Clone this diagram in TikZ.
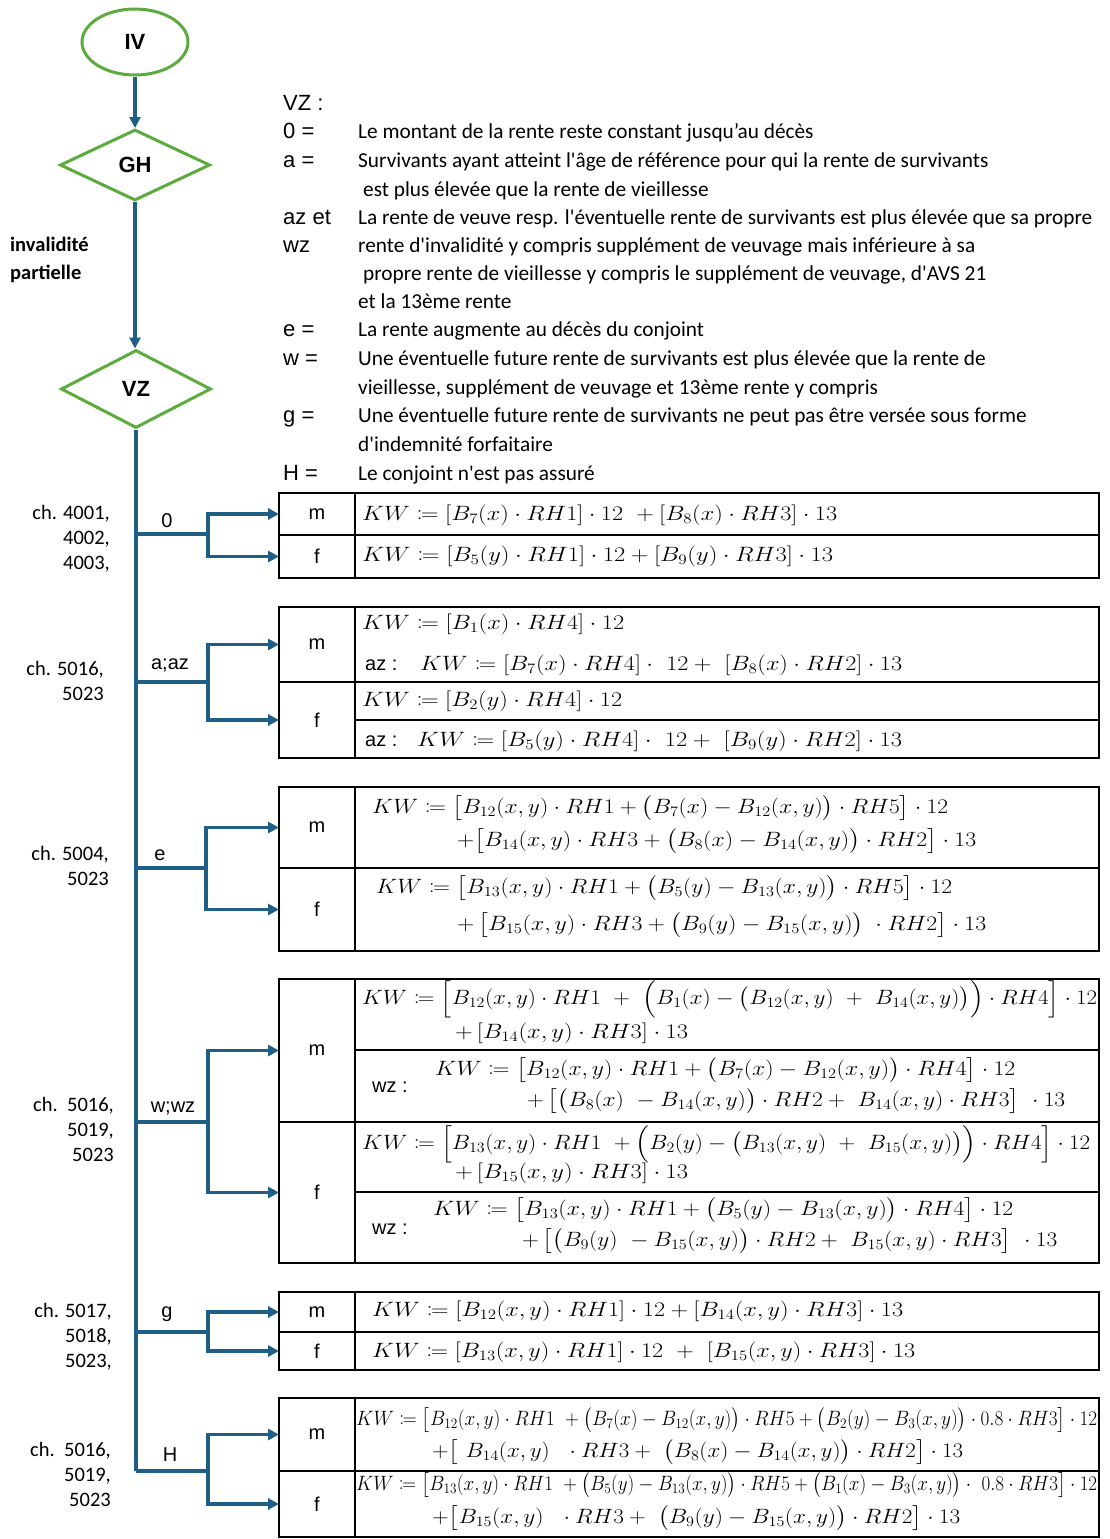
\documentclass[tikz,border=0pt]{standalone}
\usepackage{fontspec}
\usepackage{amsmath,mathtools}
\usepackage{graphicx}
\usetikzlibrary{arrows.meta,shapes.geometric}
\newfontfamily\calib{Carlito}
\newfontfamily\arialf{Liberation Sans}
\definecolor{grn}{HTML}{5DAA3F}
\definecolor{blu}{HTML}{1F5F85}
\newcommand\fitm[2]{\resizebox{#1pt}{\height}{$#2$}}
\newcommand\cellbox[5]{\node[cellst, minimum width={#4pt-#2pt}, minimum height={#5pt-#3pt}] (#1) at ({(#2+#4)/2},{(#3+#5)/2}) {};}
\tikzset{
  flowarrow/.style={draw=blu, line width=3.2pt, -{Triangle[length=11pt,width=11pt]}},
  branch/.style={draw=blu, line width=3.2pt},
  greenshape/.style={draw=grn, line width=3pt, inner sep=0pt, font=\arialf\bfseries\fontsize{22}{26}\selectfont},
  cellst/.style={draw=black, line width=2.4pt, inner sep=0pt, outer sep=0pt},
  lbl/.style={font=\arialf\fontsize{20}{24}\selectfont, inner sep=0pt},
  leg/.style={font=\arialf\fontsize{22}{25}\selectfont, inner sep=0pt, anchor=west, text height=15pt, text depth=4pt},
  desc/.style={font=\calib\fontsize{21.3}{24}\selectfont, anchor=west, inner sep=0pt, text height=14pt, text depth=4pt},
  chl/.style={font=\calib\fontsize{20.5}{25}\selectfont, anchor=east, inner sep=0pt, align=right},
  fml/.style={anchor=west, inner sep=0pt, font=\fontsize{22}{25}\selectfont},
}
\begin{document}
\begin{tikzpicture}[x=1pt,y=-1pt]
\useasboundingbox (0,0) rectangle (1110,1539);
% flow nodes
\node[ellipse, greenshape, minimum width=106pt, minimum height=66pt] (iv) at (135,42) {IV};
\node[diamond, greenshape, minimum width=150pt, minimum height=71pt] (gh) at (135,165) {GH};
\node[diamond, greenshape, minimum width=150pt, minimum height=78pt] (vz) at (136,389) {VZ};
\draw[flowarrow] (iv) -- (gh);
\draw[flowarrow] (gh.south) -- (gh.south |- vz.north);
\node[font=\calib\bfseries\fontsize{20.5}{28}\selectfont, anchor=west, align=left, inner sep=0pt] (inv) at (10,260) {invalidité\\partielle};

% legend
\node[leg] (lvz) at (283,105) {VZ :};
\node[leg] (l0) at (283,133) {0 =};
\node[leg] (la) at (283,162) {a =};
\node[leg] (laz) at (283,219) {az et};
\node[leg] (lwz) at (283,247) {wz};
\node[leg] (le) at (283,331) {e =};
\node[leg] (lw) at (283,360) {w =};
\node[leg] (lg) at (283,417) {g =};
\node[leg] (lh) at (283,475) {H =};
\node[desc] (d1) at (358,133) {Le montant de la rente reste constant jusqu’au décès};
\node[desc] (d2) at (358,162) {Survivants ayant atteint l'âge de référence pour qui la rente de survivants};
\node[desc] (d3) at (363,191) {est plus élevée que la rente de vieillesse};
\node[desc] (d4) at (358,219) {La rente de veuve resp. l'éventuelle rente de survivants est plus élevée que sa propre};
\node[desc] (d5) at (358,247) {rente d'invalidité y compris supplément de veuvage mais inférieure à sa};
\node[desc] (d6) at (363,275) {propre rente de vieillesse y compris le supplément de veuvage, d'AVS 21};
\node[desc] (d7) at (358,303) {et la 13ème rente};
\node[desc] (d8) at (358,331) {La rente augmente au décès du conjoint};
\node[desc] (d9) at (358,360) {Une éventuelle future rente de survivants est plus élevée que la rente de};
\node[desc] (d10) at (358,389) {vieillesse, supplément de veuvage et 13ème rente y compris};
\node[desc] (d11) at (358,417) {Une éventuelle future rente de survivants ne peut pas être versée sous forme};
\node[desc] (d12) at (358,446) {d'indemnité forfaitaire};
\node[desc] (d13) at (358,475) {Le conjoint n'est pas assuré};

% ---------- group 0
\cellbox{m0}{279}{493}{355}{535}
\cellbox{f0}{279}{535}{355}{578}
\cellbox{r0m}{355}{493}{1099}{535}
\cellbox{r0f}{355}{535}{1099}{578}
\node[lbl] at (m0) {m};
\node[lbl] at (f0) {f};
\node[fml] (q0m) at (362,515) {\fitm{475}{KW \coloneqq [B_7(x)\cdot RH1]\cdot 12\ +[B_8(x)\cdot RH3]\cdot 13}};
\node[fml] (q0f) at (362,556) {\fitm{471}{KW \coloneqq [B_5(y)\cdot RH1]\cdot 12+[B_9(y)\cdot RH3]\cdot 13}};
\coordinate (t0) at (136,534);
\coordinate (s0) at (208,534);
\node[lbl] (b0) at (167,521) {0};
\node[chl] (c0) at (110,539) {ch. 4001,\\4002,\\4003,};
\draw[branch] (t0) -- (s0);
\draw[flowarrow] (s0) |- (m0);
\draw[flowarrow] (s0) |- (f0);

% ---------- group a
\cellbox{ma}{279}{607}{355}{682}
\cellbox{fa}{279}{682}{355}{758}
\cellbox{ram}{355}{607}{1099}{682}
\cellbox{raf1}{355}{682}{1099}{720}
\cellbox{raf2}{355}{720}{1099}{758}
\node[lbl] at (ma) {m};
\node[lbl] at (fa) {f};
\node[fml] (qa1) at (362,624) {\fitm{262}{KW \coloneqq [B_1(x)\cdot RH4]\cdot 12}};
\node[lbl, anchor=west] (aza) at (365,665) {az :};
\node[fml] (qa2) at (420,665) {\fitm{482}{KW \coloneqq [B_7(x)\cdot RH4]\cdot\ 12+\ [B_8(x)\cdot RH2]\cdot 13}};
\node[fml] (qa3) at (362,701) {\fitm{260}{KW \coloneqq [B_2(y)\cdot RH4]\cdot 12}};
\node[lbl, anchor=west] (azb) at (365,741) {az :};
\node[fml] (qa4) at (417,741) {\fitm{485}{KW \coloneqq [B_5(y)\cdot RH4]\cdot\ 12+\ [B_9(y)\cdot RH2]\cdot 13}};
\coordinate (ta) at (136,682);
\coordinate (sa) at (208,682);
\node[lbl] (ba) at (170,665) {a;az};
\node[chl] (ca) at (104,680.5) {ch. 5016,\\5023};
\draw[branch] (ta) -- (sa);
\draw[flowarrow] (sa) |- (ma);
\draw[flowarrow] (sa) |- (fa);

% ---------- group e
\cellbox{me}{279}{787}{355}{868}
\cellbox{fe}{279}{868}{355}{951}
\cellbox{rem}{355}{787}{1099}{868}
\cellbox{ref}{355}{868}{1099}{951}
\node[lbl] at (me) {m};
\node[lbl] at (fe) {f};
\node[fml] (qe1) at (372,808) {\fitm{576}{KW \coloneqq \bigl[B_{12}(x,y)\cdot RH1+\bigl(B_7(x)-B_{12}(x,y)\bigr)\cdot RH5\bigr]\cdot 12}};
\node[fml] (qe2) at (457,841) {\fitm{519}{{+}\bigl[B_{14}(x,y)\cdot RH3+\bigl(B_8(x)-B_{14}(x,y)\bigr)\cdot RH2\bigr]\cdot 13}};
\node[fml] (qe3) at (376,888) {\fitm{576}{KW \coloneqq \bigl[B_{13}(x,y)\cdot RH1+\bigl(B_5(y)-B_{13}(x,y)\bigr)\cdot RH5\bigr]\cdot 12}};
\node[fml] (qe4) at (457,925) {\fitm{529}{{+}\,\bigl[B_{15}(x,y)\cdot RH3+\bigl(B_9(y)-B_{15}(x,y)\bigr)\;\cdot RH2\bigr]\cdot 13}};
\coordinate (te) at (136,868);
\coordinate (se) at (206,868);
\node[lbl] (be) at (160,855) {e};
\node[chl] (ce) at (109,865.5) {ch. 5004,\\5023};
\draw[branch] (te) -- (se);
\draw[flowarrow] (se) |- (me);
\draw[flowarrow] (se) |- (fe);

% ---------- group w
\cellbox{mw}{279}{979}{355}{1122}
\cellbox{fw}{279}{1122}{355}{1263}
\cellbox{rwm1}{355}{979}{1099}{1050}
\cellbox{rwm2}{355}{1050}{1099}{1122}
\cellbox{rwf1}{355}{1122}{1099}{1192}
\cellbox{rwf2}{355}{1192}{1099}{1263}
\node[lbl] at (mw) {m};
\node[lbl] at (fw) {f};
\node[fml] (qw1) at (362,999) {\fitm{735}{KW \coloneqq \Bigl[B_{12}(x,y)\cdot RH1\ +\ \Bigl(B_1(x)-\bigl(B_{12}(x,y)\ +\ B_{14}(x,y)\bigr)\Bigr)\cdot RH4\Bigr]\cdot 12}};
\node[fml] (qw2) at (455,1033) {\fitm{233}{{+}\,[B_{14}(x,y)\cdot RH3]\cdot 13}};
\node[lbl, anchor=west] (wza) at (372,1087) {wz :};
\node[fml] (qw3) at (435,1070) {\fitm{580}{KW \coloneqq \bigl[B_{12}(x,y)\cdot RH1+\bigl(B_7(x)-B_{12}(x,y)\bigr)\cdot RH4\bigr]\cdot 12}};
\node[fml] (qw4) at (527,1101) {\fitm{538}{{+}\,\bigl[\bigl(B_8(x)\ -B_{14}(x,y)\bigr)\cdot RH2+\ B_{14}(x,y)\cdot RH3\bigr]\ \cdot 13}};
\node[fml] (qw5) at (362,1144) {\fitm{728}{KW \coloneqq \Bigl[B_{13}(x,y)\cdot RH1\ +\Bigl(B_2(y)-\bigl(B_{13}(x,y)\ +\ B_{15}(x,y)\bigr)\Bigr)\cdot RH4\Bigr]\cdot 12}};
\node[fml] (qw6) at (455,1173) {\fitm{233}{{+}\,[B_{15}(x,y)\cdot RH3]\cdot 13}};
\node[lbl, anchor=west] (wzb) at (372,1229) {wz :};
\node[fml] (qw7) at (433,1210) {\fitm{580}{KW \coloneqq \bigl[B_{13}(x,y)\cdot RH1+\bigl(B_5(y)-B_{13}(x,y)\bigr)\cdot RH4\bigr]\cdot 12}};
\node[fml] (qw8) at (522,1241) {\fitm{535}{{+}\,\bigl[\bigl(B_9(y)\ -B_{15}(x,y)\bigr)\cdot RH2+\ B_{15}(x,y)\cdot RH3\bigr]\ \cdot 13}};
\coordinate (tw) at (136,1122);
\coordinate (sw) at (208,1122);
\node[lbl] (bw) at (173,1108) {w;wz};
\node[chl] (cw) at (114,1129) {ch.\ \ 5016,\\5019,\\5023};
\draw[branch] (tw) -- (sw);
\draw[flowarrow] (sw) |- (mw);
\draw[flowarrow] (sw) |- (fw);

% ---------- group g
\cellbox{mg}{279}{1292}{355}{1332}
\cellbox{fg}{279}{1332}{355}{1370}
\cellbox{rgm}{355}{1292}{1099}{1332}
\cellbox{rgf}{355}{1332}{1099}{1370}
\node[lbl] at (mg) {m};
\node[lbl] at (fg) {f};
\node[fml] (qg1) at (372,1311) {\fitm{531}{KW \coloneqq [B_{12}(x,y)\cdot RH1]\cdot 12+[B_{14}(x,y)\cdot RH3]\cdot 13}};
\node[fml] (qg2) at (372,1352) {\fitm{543}{KW \coloneqq [B_{13}(x,y)\cdot RH1]\cdot 12\ +\ [B_{15}(x,y)\cdot RH3]\cdot 13}};
\coordinate (tg) at (136,1332);
\coordinate (sg) at (208,1332);
\node[lbl] (bg) at (167,1314) {g};
\node[chl] (cg) at (112,1337) {ch. 5017,\\5018,\\5023,};
\draw[branch] (tg) -- (sg);
\draw[flowarrow] (sg) |- (mg);
\draw[flowarrow] (sg) |- (fg);

% ---------- group H
\cellbox{mh}{279}{1398}{355}{1471}
\cellbox{fh}{279}{1471}{355}{1537}
\cellbox{rhm}{355}{1398}{1099}{1471}
\cellbox{rhf}{355}{1471}{1099}{1537}
\node[lbl] at (mh) {m};
\node[lbl] at (fh) {f};
\node[fml] (qh1) at (356,1420) {\fitm{741}{KW \coloneqq \bigl[B_{12}(x,y)\cdot RH1\ +\bigl(B_7(x)-B_{12}(x,y)\bigr)\cdot RH5+\bigl(B_2(y)-B_3(x,y)\bigr)\cdot 0.8\cdot RH3\bigr]\cdot 12}};
\node[fml] (qh2) at (432,1452) {\fitm{531}{{+}\bigl[\ B_{14}(x,y)\ \ \cdot RH3+\ \bigl(B_8(x)-B_{14}(x,y)\bigr)\cdot RH2\bigr]\cdot 13}};
\node[fml] (qh3) at (356,1485) {\fitm{741}{KW \coloneqq \bigl[B_{13}(x,y)\cdot RH1\ +\bigl(B_5(y)-B_{13}(x,y)\bigr)\cdot RH5+\bigl(B_1(x)-B_3(x,y)\bigr)\cdot\ 0.8\cdot RH3\bigr]\cdot 12}};
\node[fml] (qh4) at (432,1518) {\fitm{528}{{+}\bigl[B_{15}(x,y)\ \ \cdot RH3+\ \bigl(B_9(y)-B_{15}(x,y)\bigr)\cdot RH2\bigr]\cdot 13}};
\coordinate (th) at (136,1471);
\coordinate (sh) at (208,1471);
\node[lbl] (bh) at (170,1455) {H};
\node[chl] (ch) at (111,1474) {ch.\ \ 5016,\\5019,\\5023};
\draw[branch] (th) -- (sh);
\draw[flowarrow] (sh) |- (mh);
\draw[flowarrow] (sh) |- (fh);

% trunk
\draw[branch] (vz.south) -- (th);
\end{tikzpicture}
\end{document}
